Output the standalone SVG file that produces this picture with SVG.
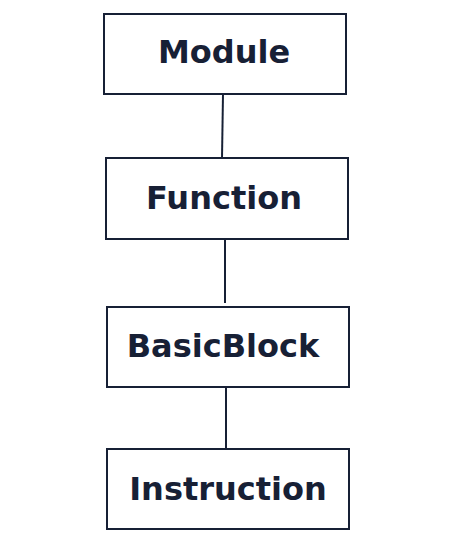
<svg xmlns="http://www.w3.org/2000/svg" width="462" height="554" viewBox="0 0 462 554">
<style>
.box{fill:#ffffff;stroke:#172035;stroke-width:2}
.lbl{font-family:"DejaVu Sans",sans-serif;font-weight:bold;font-size:32px;fill:#172035;text-anchor:middle}
.edge{stroke:#172035;stroke-width:2;fill:none}
</style>
<rect width="462" height="554" fill="#ffffff"/>
<g id="connectors">
<line class="edge" x1="223" y1="94" x2="222" y2="158"/>
<line class="edge" x1="225" y1="239" x2="225" y2="303"/>
<line class="edge" x1="226" y1="387" x2="226" y2="449"/>
</g>
<g id="module"><rect class="box" x="104" y="14" width="242" height="80"/><text class="lbl" x="224" y="63">Module</text></g>
<g id="function"><rect class="box" x="106" y="158" width="242" height="81"/><text class="lbl" x="224" y="209">Function</text></g>
<g id="basicblock"><rect class="box" x="107" y="307" width="242" height="80"/><text class="lbl" x="223" y="357">BasicBlock</text></g>
<g id="instruction"><rect class="box" x="107" y="449" width="242" height="80"/><text class="lbl" x="228" y="500">Instruction</text></g>
</svg>
